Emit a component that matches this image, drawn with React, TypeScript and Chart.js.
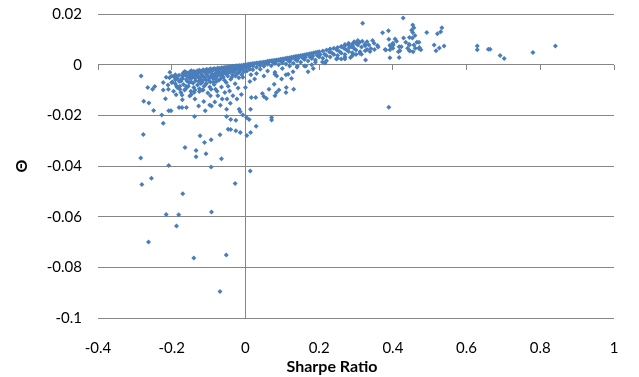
import React, { useEffect, useRef } from "react";
import { Chart, registerables } from "chart.js";

Chart.register(...registerables);

// Sharpe ratio (x) vs Θ (y)
const lowerTail: [number, number][] = [
  [-0.223, -0.0231], [-0.277, -0.0276], [-0.040, -0.0216], [-0.026, -0.0219], [0.010, -0.0216],
  [0.029, -0.0243], [-0.040, -0.0256], [-0.026, -0.0261], [-0.014, -0.0268], [0.004, -0.0280],
  [0.014, -0.0268], [-0.123, -0.0281], [-0.111, -0.0307], [-0.093, -0.0296], [-0.069, -0.0277],
  [-0.164, -0.0327], [-0.134, -0.0339], [-0.134, -0.0363], [-0.107, -0.0352], [-0.065, -0.0371],
  [-0.284, -0.0368], [-0.208, -0.0398], [-0.093, -0.0404], [0.013, -0.0420], [-0.255, -0.0448],
  [-0.281, -0.0473], [-0.028, -0.0469], [-0.170, -0.0510], [-0.215, -0.0591], [-0.181, -0.0592],
  [-0.092, -0.0582], [-0.187, -0.0637], [-0.263, -0.0700], [-0.140, -0.0763], [-0.052, -0.0751],
  [-0.069, -0.0895], [-0.047, -0.0255], [0.003, -0.0209], [0.071, -0.0209], [0.071, -0.0218],
  [-0.051, -0.0205], [-0.138, -0.0205], [-0.227, -0.0199], [-0.007, -0.0199],
];

const negativeScatter: [number, number][] = [
  [-0.283, -0.0045], [-0.265, -0.0090], [-0.276, -0.0144], [-0.262, -0.0151], [-0.249, -0.0181],
  [-0.252, -0.0097], [-0.246, -0.0086], [-0.223, -0.0070], [-0.223, -0.0100], [-0.209, -0.0097],
  [-0.217, -0.0135], [-0.206, -0.0052], [-0.194, -0.0048], [-0.208, -0.0182], [-0.202, -0.0182],
  [-0.200, -0.0070], [-0.187, -0.0084], [-0.178, -0.0097], [-0.188, -0.0119], [-0.180, -0.0169],
  [-0.172, -0.0169], [-0.160, -0.0169], [-0.171, -0.0138], [-0.174, -0.0057], [-0.165, -0.0027],
  [-0.147, -0.0024], [-0.160, -0.0086], [-0.147, -0.0068], [-0.151, -0.0124], [-0.139, -0.0109],
  [-0.137, -0.0136], [-0.126, -0.0031], [-0.121, -0.0074], [-0.125, -0.0106], [-0.127, -0.0163],
  [-0.113, -0.0145], [-0.115, -0.0100], [-0.106, -0.0074], [-0.109, -0.0182], [-0.097, -0.0159],
  [-0.092, -0.0163], [-0.083, -0.0147], [-0.095, -0.0123], [-0.093, -0.0097], [-0.081, -0.0097],
  [-0.079, -0.0066], [-0.075, -0.0123], [-0.068, -0.0160], [-0.063, -0.0136], [-0.051, -0.0176],
  [-0.056, -0.0110], [-0.043, -0.0104], [-0.050, -0.0136], [-0.041, -0.0152], [-0.034, -0.0123],
  [-0.023, -0.0136], [-0.011, -0.0118], [0.000, -0.0090], [-0.020, -0.0092], [-0.017, -0.0176],
  [-0.014, -0.0186], [0.014, -0.0176], [0.016, -0.0130], [0.028, -0.0130], [0.012, -0.0066],
  [0.025, -0.0057], [0.046, -0.0114], [0.050, -0.0126], [0.057, -0.0134], [0.064, -0.0097],
  [0.080, -0.0123], [0.078, -0.0077], [0.098, -0.0057], [0.091, -0.0100], [0.110, -0.0110],
  [0.116, -0.0038], [0.125, -0.0055], [0.131, -0.0097], [0.129, -0.0028], [0.141, -0.0005],
  [0.164, -0.0005], [0.170, -0.0028], [0.184, -0.0015], [0.080, -0.0038], [0.084, -0.0110],
  [0.111, -0.0090], [0.389, -0.0168],
];

const negativeCluster: [number, number][] = [
  [-0.19, -0.0060], [-0.185, -0.0090], [-0.18, -0.0065], [-0.175, -0.0110], [-0.17, -0.0055],
  [-0.168, -0.0078], [-0.165, -0.0100], [-0.16, -0.0045], [-0.158, -0.0065], [-0.155, -0.0085],
  [-0.15, -0.0055], [-0.148, -0.0105], [-0.145, -0.0042], [-0.142, -0.0072], [-0.14, -0.0090],
  [-0.138, -0.0052], [-0.135, -0.0063], [-0.132, -0.0038], [-0.13, -0.0080], [-0.128, -0.0048],
  [-0.125, -0.0095], [-0.122, -0.0058], [-0.12, -0.0035], [-0.118, -0.0070], [-0.115, -0.0045],
  [-0.112, -0.0085], [-0.11, -0.0030], [-0.108, -0.0060], [-0.105, -0.0040], [-0.102, -0.0112],
  [-0.10, -0.0050], [-0.098, -0.0030], [-0.095, -0.0068], [-0.092, -0.0042], [-0.09, -0.0025],
  [-0.088, -0.0055], [-0.085, -0.0078], [-0.082, -0.0035], [-0.08, -0.0022], [-0.078, -0.0048],
  [-0.075, -0.0030], [-0.072, -0.0062], [-0.07, -0.0020], [-0.068, -0.0040], [-0.065, -0.0088],
  [-0.062, -0.0028], [-0.06, -0.0050], [-0.058, -0.0018], [-0.055, -0.0035], [-0.052, -0.0070],
  [-0.05, -0.0022], [-0.048, -0.0045], [-0.045, -0.0015], [-0.042, -0.0030], [-0.04, -0.0058],
  [-0.038, -0.0020], [-0.035, -0.0040], [-0.032, -0.0012], [-0.03, -0.0028], [-0.028, -0.0075],
  [-0.025, -0.0018], [-0.022, -0.0035], [-0.02, -0.0010], [-0.018, -0.0052], [-0.015, -0.0022],
  [-0.012, -0.0008], [-0.01, -0.0040], [-0.008, -0.0015], [-0.005, -0.0028], [-0.003, -0.0006],
  [0.002, -0.0012], [0.004, -0.0025], [0.008, -0.0005], [0.012, -0.0018], [-0.215, -0.0050],
  [-0.21, -0.0080], [-0.205, -0.0030], [-0.198, -0.0068], [-0.195, -0.0105], [-0.188, -0.0048],
  [-0.178, -0.0085], [-0.172, -0.0120], [-0.162, -0.0095], [-0.152, -0.0070], [-0.147, -0.0118],
  [-0.137, -0.0100], [-0.127, -0.0065], [-0.117, -0.0100], [-0.107, -0.0075], [-0.097, -0.0088],
  [-0.087, -0.0068], [-0.077, -0.0105], [-0.067, -0.0055], [-0.057, -0.0062], [-0.047, -0.0085],
  [-0.037, -0.0050], [-0.027, -0.0045], [-0.017, -0.0030], [-0.007, -0.0050],
  [-0.13, -0.0042], [-0.125, -0.0055], [-0.12, -0.0048], [-0.115, -0.0062], [-0.11, -0.0052],
  [-0.105, -0.0028], [-0.1, -0.0062], [-0.095, -0.0050], [-0.09, -0.0038], [-0.085, -0.0045],
  [-0.08, -0.0058], [-0.075, -0.0042], [-0.07, -0.0032], [-0.065, -0.0045], [-0.06, -0.0035],
  [-0.055, -0.0025], [-0.05, -0.0035], [-0.045, -0.0028], [-0.04, -0.0018], [-0.035, -0.0025],
  [-0.03, -0.0018], [-0.025, -0.0012], [-0.02, -0.0020], [-0.015, -0.0012], [-0.01, -0.0010],
  [-0.005, -0.0015], [-0.145, -0.0052], [-0.14, -0.0040], [-0.135, -0.0050], [-0.15, -0.0042],
  [-0.155, -0.0048], [-0.16, -0.0060], [-0.17, -0.0045], [-0.175, -0.0065], [-0.185, -0.0055],
  [-0.19, -0.0075],
];

const frontier: [number, number][] = [
  [-0.20, -0.0045], [-0.19, -0.0040], [-0.18, -0.0042], [-0.17, -0.0035], [-0.165, -0.0038],
  [-0.16, -0.0031], [-0.155, -0.0033], [-0.15, -0.0028], [-0.145, -0.0031], [-0.14, -0.0026],
  [-0.135, -0.0029], [-0.13, -0.0024], [-0.125, -0.0022], [-0.12, -0.0026], [-0.115, -0.0020],
  [-0.11, -0.0023], [-0.105, -0.0018], [-0.10, -0.0021], [-0.095, -0.0016], [-0.09, -0.0019],
  [-0.085, -0.0015], [-0.08, -0.0017], [-0.075, -0.0013], [-0.07, -0.0015], [-0.065, -0.0012],
  [-0.06, -0.0012], [-0.055, -0.0010], [-0.05, -0.0010], [-0.045, -0.0008], [-0.04, -0.0008],
  [-0.035, -0.0006], [-0.03, -0.0006], [-0.025, -0.0004], [-0.02, -0.0004], [-0.015, -0.0003],
  [-0.01, -0.0003], [-0.005, -0.0001], [0.0, 0.0], [0.005, 0.0001], [0.01, 0.0003],
  [0.015, 0.0003], [0.02, 0.0005], [0.025, 0.0005], [0.03, 0.0007], [0.035, 0.0007],
  [0.04, 0.0009], [0.045, 0.0009], [0.05, 0.0011], [0.055, 0.0011], [0.06, 0.0013],
  [0.065, 0.0014], [0.07, 0.0015], [0.075, 0.0016], [0.08, 0.0017], [0.085, 0.0018],
  [0.09, 0.0019], [0.095, 0.0021], [0.10, 0.0022], [0.105, 0.0023], [0.11, 0.0025],
  [0.115, 0.0026], [0.12, 0.0027], [0.125, 0.0029], [0.13, 0.0030], [0.135, 0.0032],
  [0.14, 0.0033], [0.145, 0.0034], [0.15, 0.0035], [0.155, 0.0037], [0.16, 0.0038],
  [0.165, 0.0040], [0.17, 0.0041], [0.175, 0.0043], [0.18, 0.0044], [0.185, 0.0046],
  [0.19, 0.0048], [0.195, 0.0049], [0.20, 0.0051], [0.21, 0.0054], [0.22, 0.0058],
  [0.23, 0.0061], [0.24, 0.0065], [0.25, 0.0068], [0.26, 0.0071], [0.27, 0.0075],
  [0.28, 0.0078], [0.29, 0.0082], [0.30, 0.0085], [0.31, 0.0088],
];

const bandBelow: [number, number][] = [
  [0.01, -0.0008], [0.02, -0.0005], [0.03, -0.0010], [0.04, -0.0003], [0.05, -0.0006],
  [0.06, 0.0002], [0.07, -0.0004], [0.08, 0.0005], [0.09, 0.0000], [0.10, 0.0008],
  [0.11, 0.0003], [0.12, 0.0012], [0.13, 0.0006], [0.14, 0.0015], [0.15, 0.0010],
  [0.16, 0.0020], [0.17, 0.0014], [0.18, 0.0024], [0.19, 0.0018], [0.20, 0.0030],
  [0.21, 0.0025], [0.22, 0.0035], [0.23, 0.0030], [0.24, 0.0040], [0.25, 0.0036],
  [0.26, 0.0046], [0.27, 0.0040], [0.28, 0.0052], [0.29, 0.0047], [0.30, 0.0058],
  [0.015, 0.0000], [0.035, 0.0003], [0.055, 0.0005], [0.075, 0.0009], [0.095, 0.0013],
  [0.115, 0.0017], [0.135, 0.0021], [0.155, 0.0026], [0.175, 0.0030], [0.195, 0.0036],
  [0.215, 0.0041], [0.235, 0.0046], [0.255, 0.0052], [0.275, 0.0058], [0.295, 0.0064],
  [0.315, 0.0070], [0.325, 0.0075], [0.335, 0.0078],
  [0.02, -0.0020], [0.04, -0.0018], [0.06, -0.0025], [0.03, -0.0035], [0.08, -0.0030],
  [0.10, -0.0015], [0.12, -0.0005], [0.14, -0.0010], [0.085, -0.0045], [0.05, -0.0045],
  [0.015, -0.0040], [0.11, -0.0040], [0.16, -0.0005], [0.18, 0.0000], [0.19, 0.0010],
  [0.22, 0.0015], [0.25, 0.0025], [0.27, 0.0030], [0.29, 0.0035], [0.26, 0.0022],
  [0.209, 0.0011], [0.216, 0.0007], [0.247, 0.0022], [0.270, 0.0022], [0.292, 0.0041],
  [0.315, 0.0041], [0.311, 0.0051], [0.326, 0.0018],
  [0.022, 0.0002], [0.043, 0.0006], [0.063, 0.0009], [0.083, 0.0012], [0.103, 0.0016],
  [0.123, 0.0020], [0.143, 0.0024], [0.163, 0.0029], [0.183, 0.0034], [0.203, 0.0040],
  [0.228, 0.0050], [0.248, 0.0058], [0.268, 0.0064], [0.288, 0.0071], [0.305, 0.0078],
];

const upperCluster: [number, number][] = [
  [0.318, 0.0163], [0.372, 0.0126], [0.388, 0.0134], [0.389, 0.0100], [0.406, 0.0101],
  [0.428, 0.0184], [0.429, 0.0105], [0.454, 0.0157], [0.457, 0.0146], [0.451, 0.0136],
  [0.454, 0.0127], [0.445, 0.0107], [0.453, 0.0105], [0.445, 0.0078], [0.457, 0.0078],
  [0.465, 0.0088], [0.471, 0.0088], [0.461, 0.0065], [0.445, 0.0055], [0.455, 0.0051],
  [0.471, 0.0064], [0.476, 0.0059], [0.492, 0.0127], [0.512, 0.0078], [0.517, 0.0055],
  [0.521, 0.0122], [0.530, 0.0130], [0.533, 0.0146], [0.526, 0.0066], [0.539, 0.0074],
  [0.392, 0.0059], [0.392, 0.0027], [0.379, 0.0060], [0.401, 0.0078], [0.417, 0.0071],
  [0.415, 0.0051], [0.417, 0.0028], [0.423, 0.0071], [0.394, 0.0072], [0.349, 0.0085],
  [0.358, 0.0076], [0.338, 0.0052], [0.340, 0.0064], [0.317, 0.0092], [0.324, 0.0081],
  [0.303, 0.0088], [0.291, 0.0074], [0.282, 0.0068], [0.392, 0.0077], [0.381, 0.0058],
  [0.419, 0.0055], [0.444, 0.0081], [0.446, 0.0055], [0.472, 0.0068],
  [0.23, 0.0062], [0.26, 0.0072], [0.27, 0.0080], [0.28, 0.0085], [0.295, 0.0090],
  [0.305, 0.0095], [0.33, 0.0090], [0.345, 0.0095], [0.36, 0.0070], [0.35, 0.0060],
  [0.33, 0.0060], [0.325, 0.0055], [0.31, 0.0045], [0.30, 0.0040], [0.285, 0.0028],
  [0.40, 0.0085], [0.41, 0.0092], [0.435, 0.0088], [0.44, 0.0065], [0.46, 0.0115], [0.40, 0.0065],
];

const farRight: [number, number][] = [
  [0.629, 0.0074], [0.629, 0.0059], [0.659, 0.0061], [0.664, 0.0061], [0.691, 0.0036],
  [0.702, 0.0024], [0.780, 0.0048], [0.841, 0.0074],
];

const xTicks = { min: -0.4, max: 1, step: 0.2 };
const yTicks = { min: -0.1, max: 0.02, step: 0.02 };
const xTitle = "Sharpe Ratio";
const yTitle = "Θ";

const GRID = "#868686";
const POINT = "#4A7EBB";
const FONT = "Lato, 'Open Sans', sans-serif";

const fmt = (v: number | string) => String(Math.round(Number(v) * 1000) / 1000);

const axisTicksPlugin = {
  id: "axisTicks",
  beforeDatasetsDraw(chart: any) {
    const { ctx, scales } = chart;
    const x = scales.x;
    const y = scales.y;
    const y0 = Math.round(y.getPixelForValue(0));
    ctx.save();
    ctx.strokeStyle = GRID;
    ctx.lineWidth = 1;
    ctx.beginPath();
    x.ticks.forEach((t: any) => {
      const px = Math.round(x.getPixelForValue(t.value) - 0.5) + 0.5;
      ctx.moveTo(px, y0);
      ctx.lineTo(px, y0 + 5);
    });
    ctx.stroke();
    ctx.restore();
  },
  afterDraw(chart: any) {
    const { ctx, chartArea } = chart;
    ctx.save();
    ctx.fillStyle = "#000";
    ctx.font = `bold 16px ${FONT}`;
    ctx.textAlign = "center";
    ctx.textBaseline = "middle";
    ctx.fillText(xTitle, (chartArea.left + chartArea.right) / 2 - 24, chartArea.bottom + 49);
    ctx.restore();
  },
};

export default function App() {
  const ref = useRef<HTMLCanvasElement | null>(null);
  useEffect(() => {
    if (!ref.current) return;
    const data = [
      ...lowerTail, ...negativeScatter, ...negativeCluster, ...frontier,
      ...bandBelow, ...upperCluster, ...farRight,
    ].map(([x, y]) => ({ x, y }));
    const chart = new Chart(ref.current, {
      type: "scatter",
      data: {
        datasets: [
          {
            data,
            pointStyle: "rectRot",
            pointRadius: 2.5,
            backgroundColor: POINT,
            borderColor: POINT,
            borderWidth: 0,
          },
        ],
      },
      options: {
        animation: false,
        responsive: false,
        devicePixelRatio: 1,
        layout: { padding: { top: 14, right: 25, left: 0, bottom: 0 } },
        plugins: { legend: { display: false }, tooltip: { enabled: false } },
        scales: {
          x: {
            type: "linear",
            min: xTicks.min,
            max: xTicks.max,
            border: { display: false },
            grid: {
              drawTicks: true,
              tickLength: 21,
              tickColor: "rgba(0,0,0,0)",
              color: (c: any) => (c.tick && Math.abs(c.tick.value) < 1e-9 ? GRID : "rgba(0,0,0,0)"),
            },
            ticks: {
              stepSize: xTicks.step,
              padding: 0,
              color: "#000",
              font: { family: FONT, size: 15 },
              callback: (v: any) => fmt(v),
            },
            afterFit: (s: any) => { s.height = 59; },
          },
          y: {
            type: "linear",
            min: yTicks.min,
            max: yTicks.max,
            border: { display: false },
            grid: { drawTicks: true, tickLength: 16, tickColor: "rgba(0,0,0,0)", color: GRID },
            ticks: {
              stepSize: yTicks.step,
              padding: 0,
              color: "#000",
              font: { family: FONT, size: 15 },
              callback: (v: any) => fmt(v),
            },
            title: {
              display: true,
              text: yTitle,
              color: "#000",
              font: { family: FONT, size: 16, weight: "bold" },
              padding: { top: 12, bottom: 0 },
            },
            afterFit: (s: any) => { s.width = 98; },
          },
        },
      },
      plugins: [axisTicksPlugin],
    });
    return () => chart.destroy();
  }, []);
  return (
    <div style={{ position: "absolute", left: 0, top: 0, width: 639, height: 377, background: "#fff" }}>
      <canvas ref={ref} width={639} height={377} style={{ display: "block" }} />
    </div>
  );
}
